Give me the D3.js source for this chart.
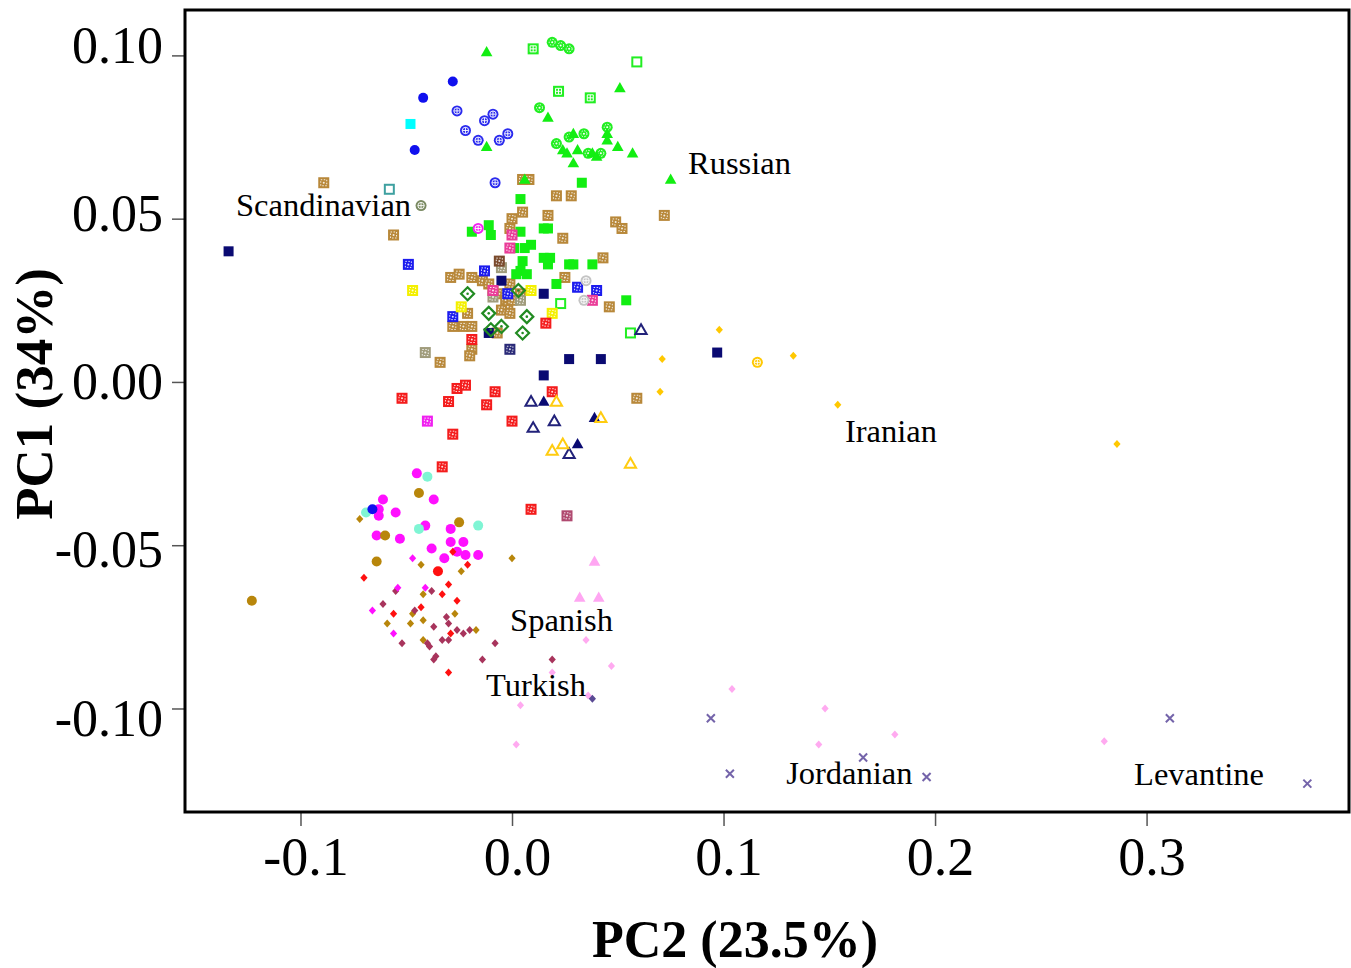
<!DOCTYPE html>
<html>
<head>
<meta charset="utf-8">
<script src="https://cdn.jsdelivr.net/npm/d3@7"></script>
<style>
  body { margin: 0; background: #fff; }
  svg { display: block; }
</style>
</head>
<body>
<div id="chart"></div>
<script>
// PCA scores, each point is [PC2, PC1]
const brownSq = [[-0.089,0.061],[-0.056,0.045],[-0.029,0.032],[-0.025,0.033],[-0.019,0.032],[-0.014,0.031],[-0.011,0.030],[-0.001,0.030],[-0.006,0.027],[-0.003,0.025],[-0.002,0.023],[-0.005,0.022],[-0.001,0.021],[-0.021,0.021],[-0.023,0.017],[-0.019,0.017],[-0.028,0.017],[-0.019,0.010],[-0.020,0.008],[-0.007,0.015],[-0.034,0.006],[0.005,0.062],[0.008,0.062],[0.021,0.057],[0.028,0.057],[0.005,0.052],[0.017,0.051],[0.000,0.050],[-0.001,0.047],[0.049,0.049],[0.052,0.047],[0.072,0.051],[0.024,0.044],[0.043,0.038],[0.025,0.032],[0.046,0.023],[0.059,-0.005],[0.004,0.027],[0.000,0.025],[-0.009,0.028]];
const khakiSq = [[-0.041,0.009],[-0.005,0.035],[-0.009,0.026],[0.004,0.025]];
const darkBrownSq = [[-0.006,0.037]];
const navyPatSq = [[-0.001,0.010]];
const maroonSq = [[0.026,-0.041]];
const greenSq = [[0.033,0.061],[0.004,0.056],[-0.011,0.048],[-0.010,0.045],[-0.019,0.046],[0.004,0.046],[0.015,0.047],[0.017,0.047],[0.009,0.042],[0.006,0.041],[0.001,0.041],[0.005,0.037],[0.015,0.038],[0.018,0.038],[0.017,0.036],[0.004,0.034],[0.002,0.033],[0.007,0.033],[0.029,0.036],[0.038,0.036],[0.021,0.030],[0.054,0.025],[0.027,0.036]];
const greenGrid = [[0.010,0.102],[0.022,0.089],[0.037,0.087]];
const greenDot = [[0.019,0.104],[0.023,0.103],[0.027,0.102],[0.013,0.084],[0.034,0.076],[0.045,0.078],[0.021,0.073],[0.027,0.075],[0.036,0.070],[0.042,0.070]];
const greenOpenSq = [[0.059,0.098],[0.023,0.024],[0.056,0.015]];
const greenTri = [[-0.012,0.101],[0.051,0.090],[0.017,0.081],[-0.012,0.072],[0.029,0.076],[0.026,0.070],[0.029,0.067],[0.031,0.071],[0.050,0.072],[0.057,0.070],[0.045,0.076],[0.045,0.074],[0.038,0.070],[0.040,0.069],[0.024,0.071],[0.075,0.062],[0.006,0.062]];
const blueCirc = [[-0.028,0.092],[-0.042,0.087],[-0.046,0.071]];
const blueCross = [[-0.026,0.083],[-0.009,0.082],[-0.013,0.080],[-0.022,0.077],[-0.016,0.074],[-0.006,0.074],[-0.002,0.076],[-0.008,0.061]];
const cyanSq = [[-0.048,0.079]];
const tealOpenSq = [[-0.058,0.059]];
const oliveCross = [[-0.043,0.054]];
const navySq = [[-0.134,0.040],[-0.005,0.031],[0.015,0.027],[-0.011,0.015],[0.027,0.007],[0.042,0.007],[0.015,0.002],[0.097,0.009]];
const blueSq = [[-0.049,0.036],[-0.028,0.020],[-0.013,0.034],[-0.002,0.027],[0.031,0.029],[0.040,0.028]];
const yellowSq = [[-0.047,0.028],[-0.024,0.023],[0.009,0.028],[0.019,0.021]];
const redSq = [[0.016,0.018],[-0.019,0.013],[-0.052,-0.005],[-0.030,-0.006],[-0.026,-0.002],[-0.022,-0.001],[-0.008,-0.003],[-0.012,-0.007],[0.000,-0.012],[-0.028,-0.016],[0.019,-0.003],[-0.033,-0.026],[0.009,-0.039]];
const magentaSq = [[-0.040,-0.012]];
const pinkSq = [[0.000,0.045],[-0.001,0.041],[-0.009,0.028],[0.038,0.025]];
const magentaCross = [[-0.016,0.047]];
const silverCross = [[0.035,0.031],[0.034,0.025]];
const greenDia = [[-0.021,0.027],[0.003,0.028],[-0.011,0.021],[0.007,0.020],[0.005,0.015],[-0.005,0.017],[-0.010,0.016]];
const navyOpenTri = [[0.009,-0.006],[0.020,-0.012],[0.010,-0.014],[0.027,-0.022],[0.061,0.016]];
const navyTri = [[0.015,-0.006],[0.039,-0.011],[0.031,-0.019]];
const goldOpenTri = [[0.021,-0.006],[0.042,-0.011],[0.019,-0.021],[0.024,-0.019],[0.056,-0.025]];
const goldDia = [[0.098,0.016],[0.071,0.007],[0.133,0.008],[0.070,-0.003],[0.154,-0.007],[0.286,-0.019]];
const goldCross = [[0.116,0.006]];
const magentaCirc = [[-0.045,-0.028],[-0.061,-0.036],[-0.063,-0.039],[-0.063,-0.041],[-0.055,-0.040],[-0.037,-0.036],[-0.064,-0.047],[-0.053,-0.048],[-0.041,-0.044],[-0.029,-0.045],[-0.029,-0.049],[-0.023,-0.049],[-0.038,-0.051],[-0.026,-0.052],[-0.022,-0.053],[-0.032,-0.054],[-0.016,-0.053]];
const aquaCirc = [[-0.040,-0.029],[-0.069,-0.040],[-0.044,-0.045],[-0.016,-0.044]];
const blueDot = [[-0.066,-0.039]];
const goldenCirc = [[-0.044,-0.034],[-0.060,-0.047],[-0.025,-0.043],[-0.064,-0.055],[-0.123,-0.067]];
const goldenDia = [[-0.072,-0.042],[-0.043,-0.056],[-0.024,-0.058],[-0.042,-0.065],[-0.047,-0.071],[-0.059,-0.074],[-0.048,-0.074],[-0.042,-0.073],[-0.027,-0.071],[-0.017,-0.076],[-0.042,-0.079],[0.000,-0.054]];
const redDia = [[-0.028,-0.052],[-0.021,-0.056],[-0.070,-0.060],[-0.030,-0.062],[-0.033,-0.065],[-0.026,-0.067],[-0.043,-0.069],[-0.056,-0.071],[-0.029,-0.077],[-0.030,-0.089]];
const redCirc = [[-0.035,-0.058]];
const crimsonDia = [[-0.038,-0.064],[-0.055,-0.064],[-0.061,-0.068],[-0.046,-0.070],[-0.037,-0.075],[-0.031,-0.072],[-0.030,-0.074],[-0.026,-0.076],[-0.023,-0.077],[-0.020,-0.076],[-0.033,-0.079],[-0.030,-0.079],[-0.052,-0.080],[-0.040,-0.080],[-0.039,-0.081],[-0.036,-0.084],[-0.037,-0.085],[-0.014,-0.085],[-0.008,-0.080],[0.019,-0.085]];
const magentaDia = [[-0.047,-0.054],[-0.066,-0.070],[-0.056,-0.077],[-0.054,-0.063],[-0.041,-0.063]];
const pinkTri = [[0.039,-0.055],[0.032,-0.066],[0.041,-0.066]];
const lightPinkDia = [[0.035,-0.079],[0.047,-0.087],[0.019,-0.089],[0.004,-0.099],[0.104,-0.094],[0.148,-0.100],[0.145,-0.111],[0.181,-0.108],[0.280,-0.110],[0.036,-0.096],[0.002,-0.111]];
const slateDia = [[0.038,-0.097]];
const purpleX = [[0.094,-0.103],[0.103,-0.120],[0.166,-0.115],[0.196,-0.121],[0.311,-0.103],[0.376,-0.123]];

const xTicks = [-0.1, 0.0, 0.1, 0.2, 0.3];
const yTicks = [0.10, 0.05, 0.00, -0.05, -0.10];

const labelNames = ["Russian", "Scandinavian", "Iranian", "Spanish", "Turkish", "Jordanian", "Levantine"];
const labelAt = [[0.0832,0.0637],[-0.1305,0.0508],[0.1574,-0.0184],[-0.0009,-0.0763],[-0.0123,-0.0962],[0.1296,-0.1231],[0.2941,-0.1234]];

// series -> marker style
const groups = [
  {data: brownSq, shape: "sqp", color: "#b8883a"},
  {data: khakiSq, shape: "sqp", color: "#a09c7c"},
  {data: darkBrownSq, shape: "sqp", color: "#7a4a2c"},
  {data: navyPatSq, shape: "sqp", color: "#2a2a78"},
  {data: maroonSq, shape: "sqp", color: "#b04a70"},
  {data: greenSq, shape: "sq", color: "#12ee12"},
  {data: greenGrid, shape: "sqg", color: "#22ee22"},
  {data: greenDot, shape: "cip", color: "#22ee22"},
  {data: greenOpenSq, shape: "sqo", color: "#22ee22"},
  {data: greenTri, shape: "tri", color: "#12ee12"},
  {data: blueCirc, shape: "ci", color: "#1010ee"},
  {data: blueCross, shape: "cix", color: "#2a2aee"},
  {data: cyanSq, shape: "sq", color: "#00ffff"},
  {data: tealOpenSq, shape: "sqo", color: "#3ea0a0"},
  {data: oliveCross, shape: "cix", color: "#7a8a62"},
  {data: navySq, shape: "sq", color: "#0a0a72"},
  {data: blueSq, shape: "sqp", color: "#1c1cee"},
  {data: yellowSq, shape: "sqp", color: "#f4f000"},
  {data: redSq, shape: "sqp", color: "#f41c1c"},
  {data: magentaSq, shape: "sqp", color: "#f020f0"},
  {data: pinkSq, shape: "sqp", color: "#ea3c98"},
  {data: magentaCross, shape: "cix", color: "#f020f0"},
  {data: silverCross, shape: "cix", color: "#c4c4c4"},
  {data: greenDia, shape: "diao", color: "#228b22"},
  {data: navyOpenTri, shape: "trio", color: "#22227a"},
  {data: navyTri, shape: "tri", color: "#0a0a72"},
  {data: goldOpenTri, shape: "trio", color: "#ffcc10"},
  {data: goldDia, shape: "dia", color: "#ffc800"},
  {data: goldCross, shape: "cix", color: "#ffc800"},
  {data: magentaCirc, shape: "ci", color: "#ff10ff"},
  {data: aquaCirc, shape: "ci", color: "#7ff5d4"},
  {data: blueDot, shape: "ci", color: "#1010ee"},
  {data: goldenCirc, shape: "ci", color: "#b8860b"},
  {data: goldenDia, shape: "dia", color: "#b8860b"},
  {data: redDia, shape: "dia", color: "#ff1010"},
  {data: redCirc, shape: "ci", color: "#ff1010"},
  {data: crimsonDia, shape: "dia", color: "#a8345c"},
  {data: magentaDia, shape: "dia", color: "#ff10ff"},
  {data: pinkTri, shape: "tri", color: "#ffa6f2"},
  {data: lightPinkDia, shape: "dia", color: "#ffaaf0"},
  {data: slateDia, shape: "dia", color: "#5a4a94"},
  {data: purpleX, shape: "x", color: "#7464aa"}
];

var width = 1351, height = 968;
var plot = {left: 185, right: 1349, top: 10, bottom: 812};
var serif = '"Liberation Serif", "Times New Roman", Times, serif';

var svg = d3.select("#chart").append("svg")
  .attr("width", width)
  .attr("height", height);

svg.append("rect").attr("width", width).attr("height", height).attr("fill", "#fff");

var x = d3.scaleLinear().domain([-0.1546, 0.3957]).range([plot.left, plot.right]);
var y = d3.scaleLinear().domain([-0.1317, 0.1139]).range([plot.bottom, plot.top]);

function drawShape(sel, shape, color) {
  if (shape === "sqp") {
    sel.append("rect").attr("x", -5.5).attr("y", -5.5).attr("width", 11).attr("height", 11)
      .attr("fill", color);
    sel.append("rect").attr("x", -3).attr("y", -3).attr("width", 6).attr("height", 6)
      .attr("fill", "none").attr("stroke", "#fff").attr("stroke-width", 1)
      .attr("stroke-dasharray", "1.5,1.5").attr("opacity", 0.85);
    sel.append("circle").attr("r", 1).attr("fill", "#fff").attr("opacity", 0.85);
  } else if (shape === "sqg") {
    sel.append("rect").attr("x", -5.5).attr("y", -5.5).attr("width", 11).attr("height", 11)
      .attr("fill", color);
    sel.append("path").attr("d", "M-3,-3H3V3H-3ZM0,-3V3M-3,0H3")
      .attr("fill", "none").attr("stroke", "#fff").attr("stroke-width", 1);
  } else if (shape === "sq") {
    sel.append("rect").attr("x", -5).attr("y", -5).attr("width", 10).attr("height", 10)
      .attr("fill", color);
  } else if (shape === "sqo") {
    sel.append("rect").attr("x", -4.5).attr("y", -4.5).attr("width", 9).attr("height", 9)
      .attr("fill", "none").attr("stroke", color).attr("stroke-width", 2);
  } else if (shape === "ci") {
    sel.append("circle").attr("r", 5).attr("fill", color);
  } else if (shape === "cix") {
    sel.append("circle").attr("r", 5.5).attr("fill", color);
    sel.append("circle").attr("r", 3.2).attr("fill", "none").attr("stroke", "#fff").attr("stroke-width", 0.9);
    sel.append("path").attr("d", "M-3.2,0H3.2M0,-3.2V3.2").attr("stroke", "#fff").attr("stroke-width", 0.9);
  } else if (shape === "cip") {
    sel.append("circle").attr("r", 5.5).attr("fill", color);
    sel.append("circle").attr("r", 3).attr("fill", "none").attr("stroke", "#fff").attr("stroke-width", 1)
      .attr("stroke-dasharray", "1.4,1.4");
    sel.append("circle").attr("r", 1).attr("fill", "#fff");
  } else if (shape === "tri") {
    sel.append("path").attr("d", "M0,-6L5.8,4.2L-5.8,4.2Z").attr("fill", color);
  } else if (shape === "trio") {
    sel.append("path").attr("d", "M0,-5.5L5.6,4.2L-5.6,4.2Z")
      .attr("fill", "none").attr("stroke", color).attr("stroke-width", 2);
  } else if (shape === "dia") {
    sel.append("path").attr("d", "M0,-4L3.6,0L0,4L-3.6,0Z").attr("fill", color);
  } else if (shape === "diao") {
    sel.append("path").attr("d", "M0,-6.5L6.5,0L0,6.5L-6.5,0Z")
      .attr("fill", "none").attr("stroke", color).attr("stroke-width", 2.2);
    sel.append("circle").attr("r", 1.3).attr("fill", color);
  } else if (shape === "x") {
    sel.append("path").attr("d", "M-4,-4L4,4M-4,4L4,-4")
      .attr("stroke", color).attr("stroke-width", 2);
  }
}

var marks = svg.append("g").attr("class", "marks");
groups.forEach(function(grp) {
  var pts = marks.append("g")
    .selectAll("g")
    .data(grp.data)
    .enter()
    .append("g")
    .attr("transform", d => `translate(${x(d[0])},${y(d[1])})`);
  drawShape(pts, grp.shape, grp.color);
});

// group labels
svg.append("g")
  .selectAll("text")
  .data(labelNames)
  .enter()
  .append("text")
  .attr("x", (d, i) => x(labelAt[i][0]))
  .attr("y", (d, i) => y(labelAt[i][1]))
  .attr("font-family", serif)
  .attr("font-size", 32.5)
  .attr("fill", "#000")
  .text(d => d);

// axes
svg.append("g")
  .attr("transform", `translate(${plot.left},0)`)
  .call(d3.axisLeft(y).tickValues(yTicks).tickFormat(d => d.toFixed(2)).tickSize(13).tickPadding(9).tickSizeOuter(0))
  .call(g => g.select(".domain").remove())
  .call(g => g.selectAll("line").attr("stroke", "#555").attr("stroke-width", 1.5))
  .call(g => g.selectAll("text")
    .attr("fill", "#000")
    .attr("y", d => -100 * d)   // labels sit a little wider apart than the ticks
    .attr("font-family", serif)
    .attr("font-size", 52));

svg.append("g")
  .attr("transform", `translate(0,${plot.bottom})`)
  .call(d3.axisBottom(x).tickValues(xTicks).tickFormat(d => d.toFixed(1)).tickSize(14).tickPadding(11).tickSizeOuter(0))
  .call(g => g.select(".domain").remove())
  .call(g => g.selectAll("line").attr("stroke", "#555").attr("stroke-width", 1.5))
  .call(g => g.selectAll("text")
    .attr("fill", "#000")
    .attr("dx", 5)
    .attr("font-family", serif)
    .attr("font-size", 54));

// frame
svg.append("rect")
  .attr("x", plot.left).attr("y", plot.top)
  .attr("width", plot.right - plot.left).attr("height", plot.bottom - plot.top)
  .attr("fill", "none").attr("stroke", "#000").attr("stroke-width", 3);

// axis titles
svg.append("text")
  .attr("x", 735)
  .attr("y", 957)
  .attr("text-anchor", "middle")
  .attr("font-family", serif)
  .attr("font-weight", "bold")
  .attr("font-size", 52)
  .text("PC2 (23.5%)");

svg.append("text")
  .attr("transform", "translate(52,394) rotate(-90)")
  .attr("text-anchor", "middle")
  .attr("font-family", serif)
  .attr("font-weight", "bold")
  .attr("font-size", 53)
  .text("PC1 (34%)");
</script>
</body>
</html>
